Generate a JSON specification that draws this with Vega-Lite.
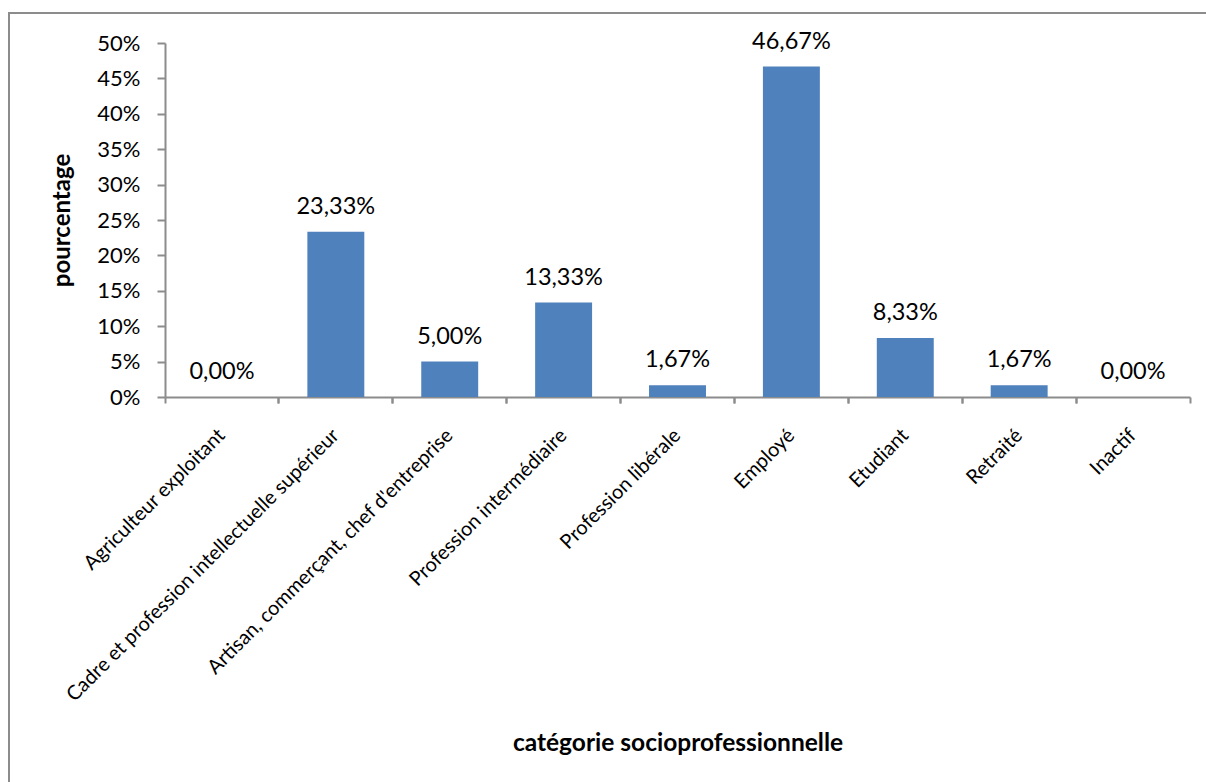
{
  "$schema": "https://vega.github.io/schema/vega-lite/v6.json",
  "width": 1199,
  "height": 771,
  "autosize": "none",
  "padding": {"left": 9, "top": 13, "right": 0, "bottom": 0},
  "background": "white",
  "config": {
    "font": "Lato",
    "view": {"stroke": "#8c8c8c", "strokeWidth": 2},
    "locale": {"number": {"decimal": ",", "thousands": " ", "grouping": [3], "currency": ["", " €"]}}
  },
  "data": {
    "values": [
      {"categorie": "Agriculteur exploitant", "pourcentage": 0},
      {"categorie": "Cadre et profession intellectuelle supérieur", "pourcentage": 0.233333},
      {"categorie": "Artisan, commerçant, chef d'entreprise", "pourcentage": 0.05},
      {"categorie": "Profession intermédiaire", "pourcentage": 0.133333},
      {"categorie": "Profession libérale", "pourcentage": 0.016667},
      {"categorie": "Employé", "pourcentage": 0.466667},
      {"categorie": "Etudiant", "pourcentage": 0.083333},
      {"categorie": "Retraité", "pourcentage": 0.016667},
      {"categorie": "Inactif", "pourcentage": 0}
    ]
  },
  "layer": [
    {
      "mark": {"type": "bar", "opacity": 0},
      "encoding": {
        "x": {
          "field": "categorie", "type": "nominal", "sort": null,
          "scale": {"range": [156, 1181], "paddingInner": 0.5, "paddingOuter": 0.25},
          "axis": {
            "orient": "bottom", "offset": -387, "labels": false, "title": null, "domain": false,
            "bandPosition": -0.5, "tickSize": 6, "tickColor": "#8c8c8c", "tickWidth": 2, "grid": false
          }
        },
        "y": {"field": "pourcentage", "type": "quantitative"}
      }
    },
    {
      "mark": {"type": "bar", "color": "#4f81bd"},
      "encoding": {
        "x": {
          "field": "categorie", "type": "nominal", "sort": null,
          "scale": {"range": [156, 1181], "paddingInner": 0.5, "paddingOuter": 0.25},
          "axis": {
            "orient": "bottom", "offset": -387, "labels": false, "title": null,
            "bandPosition": 1.5, "tickSize": 6, "tickColor": "#8c8c8c", "tickWidth": 2,
            "domainColor": "#8c8c8c", "domainWidth": 2, "grid": false
          }
        },
        "y": {
          "field": "pourcentage", "type": "quantitative",
          "scale": {"domain": [0, 0.5], "range": [384, 30], "nice": false, "zero": true},
          "axis": {
            "orient": "left", "offset": -156, "values": [0, 0.05, 0.1, 0.15, 0.2, 0.25, 0.3, 0.35, 0.4, 0.45, 0.5],
            "format": ".0%", "grid": false, "tickSize": 8, "tickColor": "#8c8c8c", "tickWidth": 2,
            "domainColor": "#8c8c8c", "domainWidth": 2,
            "labelFontSize": 22, "labelColor": "#000000", "labelPadding": 17,
            "title": "pourcentage", "titleFontSize": 24, "titleFontWeight": "bold", "titleColor": "#000000",
            "titleAngle": -90, "titleX": -96, "titleY": 207, "titleBaseline": "alphabetic", "titleAlign": "center"
          }
        }
      }
    },
    {
      "mark": {"type": "text", "fontSize": 23.5, "baseline": "alphabetic", "align": "center", "dy": -18, "color": "#000000"},
      "encoding": {
        "x": {
          "field": "categorie", "type": "nominal", "sort": null,
          "scale": {"range": [156, 1181], "paddingInner": 0.5, "paddingOuter": 0.25},
          "axis": {
            "orient": "bottom", "offset": -387, "domain": false, "ticks": false, "tickSize": 0, "grid": false,
            "labelAngle": -45, "labelAlign": "right", "labelBaseline": "middle", "labelPadding": 35,
            "labelOffset": 0, "labelFontSize": 20, "labelColor": "#000000", "labelLimit": 0, "labelOverlap": false,
            "title": "catégorie socioprofessionnelle", "titleFontSize": 24.5, "titleFontWeight": "bold", "titleColor": "#000000",
            "titleY": 353, "titleBaseline": "alphabetic"
          }
        },
        "y": {"field": "pourcentage", "type": "quantitative"},
        "text": {"field": "pourcentage", "type": "quantitative", "format": ".2%"}
      }
    }
  ],
  "resolve": {"axis": {"x": "independent"}}
}
